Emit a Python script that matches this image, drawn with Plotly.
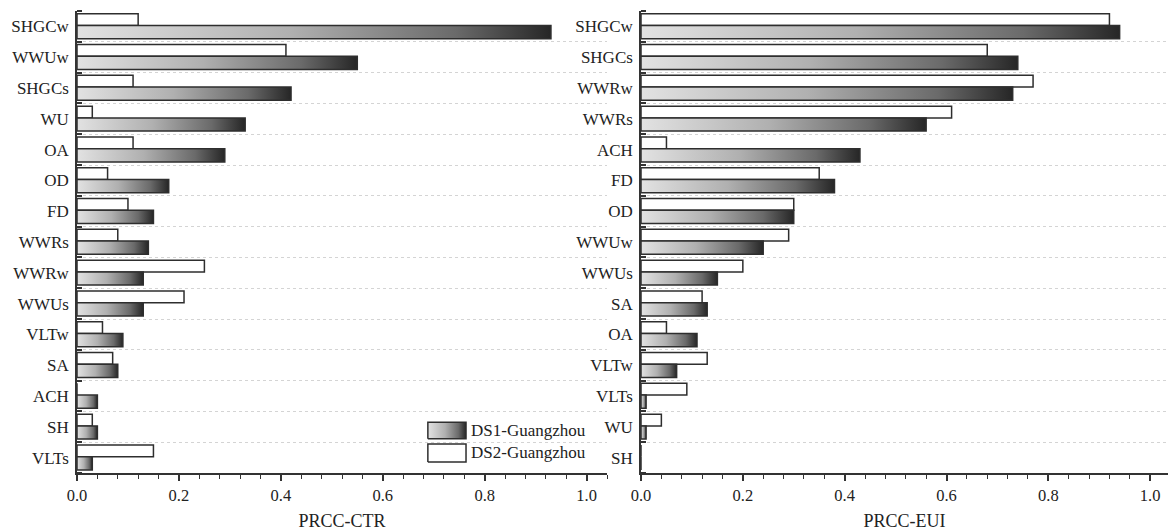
import plotly.graph_objects as go

# ---------------- data ----------------
ctr_params = ["SHGCw", "WWUw", "SHGCs", "WU", "OA", "OD", "FD", "WWRs", "WWRw",
              "WWUs", "VLTw", "SA", "ACH", "SH", "VLTs"]
ctr_ds1 = [0.93, 0.55, 0.42, 0.33, 0.29, 0.18, 0.15, 0.14, 0.13, 0.13, 0.09, 0.08, 0.04, 0.04, 0.03]
ctr_ds2 = [0.12, 0.41, 0.11, 0.03, 0.11, 0.06, 0.10, 0.08, 0.25, 0.21, 0.05, 0.07, 0.00, 0.03, 0.15]

eui_params = ["SHGCw", "SHGCs", "WWRw", "WWRs", "ACH", "FD", "OD", "WWUw", "WWUs",
              "SA", "OA", "VLTw", "VLTs", "WU", "SH"]
eui_ds1 = [0.94, 0.74, 0.73, 0.56, 0.43, 0.38, 0.30, 0.24, 0.15, 0.13, 0.11, 0.07, 0.01, 0.01, 0.00]
eui_ds2 = [0.92, 0.68, 0.77, 0.61, 0.05, 0.35, 0.30, 0.29, 0.20, 0.12, 0.05, 0.13, 0.09, 0.04, 0.00]

x_ticks = [0.0, 0.2, 0.4, 0.6, 0.8, 1.0]
x_tick_labels = ["0.0", "0.2", "0.4", "0.6", "0.8", "1.0"]
titles = ["PRCC-CTR", "PRCC-EUI"]
series_names = ["DS1-Guangzhou", "DS2-Guangzhou"]

# ---------------- style ----------------
FONT = "Liberation Serif"
EDGE = "#2e2e2e"
GRAD = [[0.0, "#e2e2e2"], [0.45, "#b0b0b0"], [0.8, "#6a6a6a"], [1.0, "#262626"]]
DS2_OFF, DS2_W = -0.41, 0.38
DS1_TOP, DS1_BOT = -0.03, 0.40

fig = go.Figure()

panels = [(ctr_params, ctr_ds1, ctr_ds2, "x", "y"),
          (eui_params, eui_ds1, eui_ds2, "x2", "y2")]

for p, (params, ds1, ds2, xa, ya) in enumerate(panels):
    # DS2: white bars
    fig.add_trace(go.Bar(
        x=ds2, y=list(range(len(params))), orientation="h",
        width=DS2_W, offset=DS2_OFF,
        marker=dict(color="white", line=dict(color=EDGE, width=1.5)),
        name=series_names[1], showlegend=False,
        xaxis=xa, yaxis=ya))
    # DS1: gradient-filled bars
    for i, v in enumerate(ds1):
        fig.add_trace(go.Scatter(
            x=[0, v, v, 0, 0],
            y=[i + DS1_TOP, i + DS1_TOP, i + DS1_BOT, i + DS1_BOT, i + DS1_TOP],
            mode="lines", fill="toself",
            fillgradient=dict(type="horizontal", colorscale=GRAD),
            line=dict(color=EDGE, width=1.5),
            name=series_names[0], showlegend=False,
            hoverinfo="skip", xaxis=xa, yaxis=ya))

# ---------------- legend (drawn on an overlay axis in the left panel, 0..1 fractions) ----------------
leg_x0, leg_x1 = 0.662, 0.734
leg_rows = [(0.074, 0.110), (0.024, 0.063)]
fig.add_trace(go.Scatter(
    x=[leg_x0, leg_x1, leg_x1, leg_x0, leg_x0],
    y=[leg_rows[0][0], leg_rows[0][0], leg_rows[0][1], leg_rows[0][1], leg_rows[0][0]],
    mode="lines", fill="toself",
    fillgradient=dict(type="horizontal", colorscale=GRAD),
    line=dict(color=EDGE, width=1.5), showlegend=False, hoverinfo="skip",
    xaxis="x3", yaxis="y3"))
fig.add_trace(go.Scatter(
    x=[leg_x0, leg_x1, leg_x1, leg_x0, leg_x0],
    y=[leg_rows[1][0], leg_rows[1][0], leg_rows[1][1], leg_rows[1][1], leg_rows[1][0]],
    mode="lines", fill="toself", fillcolor="white",
    line=dict(color=EDGE, width=1.5), showlegend=False, hoverinfo="skip",
    xaxis="x3", yaxis="y3"))
for (y0, y1), name in zip(leg_rows, series_names):
    fig.add_annotation(x=leg_x1 + 0.006, y=(y0 + y1) / 2, xref="x3", yref="y3",
                       text=name, showarrow=False, xanchor="left", yanchor="middle",
                       font=dict(size=17, color="#222"))

W, H = 1168, 531
L, R, T, B = 77, 0, 11, 58
pw = W - L - R
dom1 = [0, (607 - L) / pw]
dom2 = [(641 - L) / pw, 1]

def xaxis(dom, rng, title):
    return dict(domain=dom, range=rng, tickvals=x_ticks, ticktext=x_tick_labels,
                ticks="outside", ticklen=6, tickwidth=1.5, tickcolor="#333",
                minor=dict(dtick=0.04, tick0=0, ticks="outside", ticklen=4,
                           tickwidth=1.2, tickcolor="#333", showgrid=False),
                showline=True, linecolor="#333", linewidth=1.5, showgrid=False,
                zeroline=False, tickfont=dict(size=16.5, color="#222"),
                title=dict(text=title, font=dict(size=18, color="#222"), standoff=12))

def yaxis(params, anchor):
    n = len(params)
    return dict(anchor=anchor, range=[n - 0.5, -0.5], tickvals=list(range(n)),
                ticktext=params, ticks="", showline=True, linecolor="#333",
                linewidth=1.5, showgrid=False, zeroline=False, ticklabelstandoff=3,
                tickfont=dict(size=17, color="#222"),
                minor=dict(tickvals=[k - 0.5 for k in range(n + 1)], ticks="inside",
                           ticklen=5, tickwidth=2, tickcolor="#333", showgrid=True,
                           gridcolor="#d4d4d4", griddash="dot", gridwidth=1))

fig.update_layout(
    width=W, height=H,
    margin=dict(l=L, r=R, t=T, b=B, autoexpand=False),
    paper_bgcolor="white", plot_bgcolor="white",
    font=dict(family=FONT, color="#222"),
    barmode="overlay",
    xaxis=xaxis(dom1, [0, 1.04], titles[0]),
    xaxis2=dict(xaxis(dom2, [0, 1.035], titles[1]), anchor="y2"),
    yaxis=yaxis(ctr_params, "x"),
    yaxis2=yaxis(eui_params, "x2"),
    xaxis3=dict(overlaying="x", range=[0, 1], visible=False, anchor="y3", fixedrange=True),
    yaxis3=dict(overlaying="y", range=[0, 1], visible=False, anchor="x3", fixedrange=True),
    showlegend=False,
)
fig.write_html("out.html")
